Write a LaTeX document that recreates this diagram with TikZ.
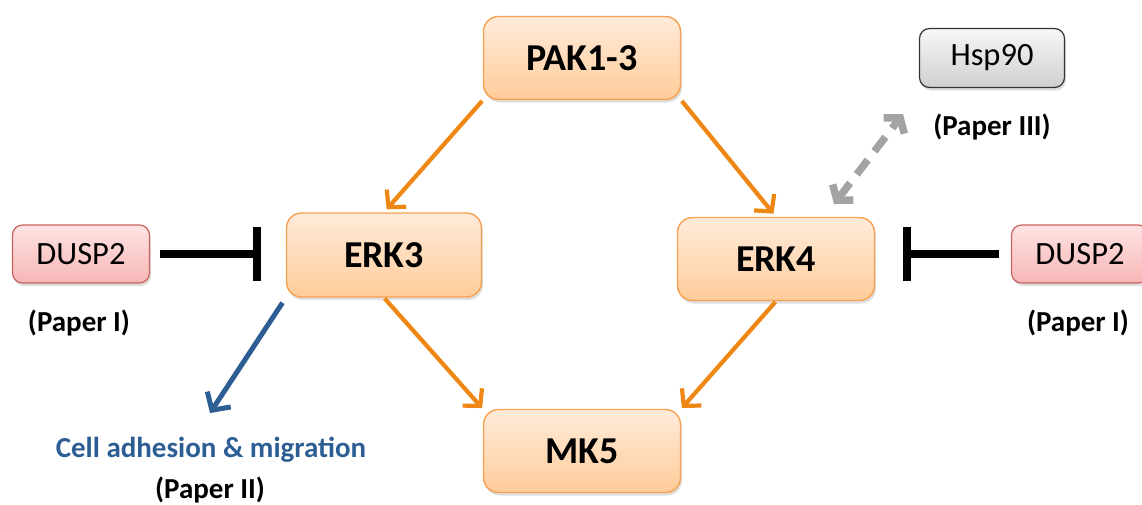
\documentclass[tikz,border=0pt]{standalone}
\usepackage{fontspec}
\setmainfont{Carlito}
\usetikzlibrary{arrows.meta,shadows}
\definecolor{orgB}{HTML}{F7A04F}
\definecolor{orgT}{HTML}{FFEBDA}
\definecolor{orgBt}{HTML}{FFCC9A}
\definecolor{orgL}{HTML}{EE8714}
\definecolor{redB}{HTML}{C9625F}
\definecolor{redT}{HTML}{FFE3E3}
\definecolor{redBt}{HTML}{F6B6B5}
\definecolor{grayT}{HTML}{F7F7F7}
\definecolor{grayBt}{HTML}{CFCFCF}
\definecolor{blueL}{HTML}{2C5E93}
\definecolor{grayL}{HTML}{A3A3A3}
\begin{document}
\begin{tikzpicture}[x=1pt,y=-1pt,
  shad/.style={drop shadow={opacity=0.25,shadow xshift=1.5pt,shadow yshift=-3pt}},
  kbox/.style={shad,draw=orgB,line width=1.4pt,rounded corners=15pt,top color=orgT,bottom color=orgBt,
    minimum width=197pt,minimum height=83pt,font=\fontsize{38}{42}\selectfont\bfseries},
  dbox/.style={shad,draw=redB,line width=1.2pt,rounded corners=10pt,top color=redT,bottom color=redBt,
    minimum width=137pt,minimum height=58pt,font=\fontsize{32.5}{36}\selectfont},
  hbox/.style={shad,draw=black!80,line width=1.2pt,rounded corners=10pt,top color=grayT,bottom color=grayBt,
    minimum width=145pt,minimum height=59pt,font=\fontsize{32.5}{36}\selectfont},
  paper/.style={font=\fontsize{29}{33}\selectfont\bfseries},
  act/.style={draw=orgL,line width=4.2pt,-{Straight Barb[length=12pt,width=26pt]}},
  inh/.style={draw=black,line width=8pt,-{Bar[width=54pt]}},
]
\useasboundingbox (0,0) rectangle (1142,504);
\begin{scope}
\clip (0,0) rectangle (1142,504);
\node[kbox] (pak) at (582,58) {PAK1-3};
\node[kbox,minimum width=195pt,minimum height=84pt] (erk3) at (384,255) {ERK3};
\node[kbox,minimum width=197pt,minimum height=83pt] (erk4) at (776,259) {ERK4};
\node[kbox] (mk5) at (582,451) {MK5};
\node[hbox] (hsp) at (992,58) {Hsp90};
\node[paper] (p3) at (992,127) {(Paper III)};
\node[dbox] (dl) at (81,254) {DUSP2};
\node[paper] (p1l) at (79,323) {(Paper I)};
\node[dbox] (dr) at (1080,254) {DUSP2};
\node[paper] (p1r) at (1078,323) {(Paper I)};
\node[font=\fontsize{29}{33}\selectfont\bfseries,text=blueL] (cell) at (211,450) {Cell adhesion \& migration};
\node[paper] (p2) at (210,490) {(Paper II)};
\end{scope}
% activation arrows
\draw[act,shorten <=1pt,shorten >=4pt] (pak.south west) -- (erk3.north);
\draw[act,shorten <=1pt,shorten >=4pt] (pak.south east) -- (erk4.north);
\draw[act,shorten <=1pt,shorten >=1pt] (erk3.south) -- (mk5.north west);
\draw[act,shorten <=1pt,shorten >=1pt] (erk4.south) -- (mk5.north east);
% blue arrow
\coordinate (ct) at (210,413);
\draw[draw=blueL,line width=5pt,-{Straight Barb[length=13pt,width=28pt]},shorten <=6pt] (erk3.south west) -- (ct);
% gray dashed double arrow
\coordinate (g1) at (834,204);
\coordinate (g2) at (903,114);
\draw[draw=grayL,line width=7.5pt,dash pattern=on 18pt off 11pt,{Straight Barb[length=10pt,width=26pt]}-{Straight Barb[length=10pt,width=26pt]}] (g1) -- (g2);
% inhibition
\draw[inh,shorten <=10pt,shorten >=25pt] (dl.east) -- (dl.east -| erk3.west);
\draw[inh,shorten <=12pt,shorten >=28pt] (dr.west) -- (dr.west -| erk4.east);
\end{tikzpicture}
\end{document}
